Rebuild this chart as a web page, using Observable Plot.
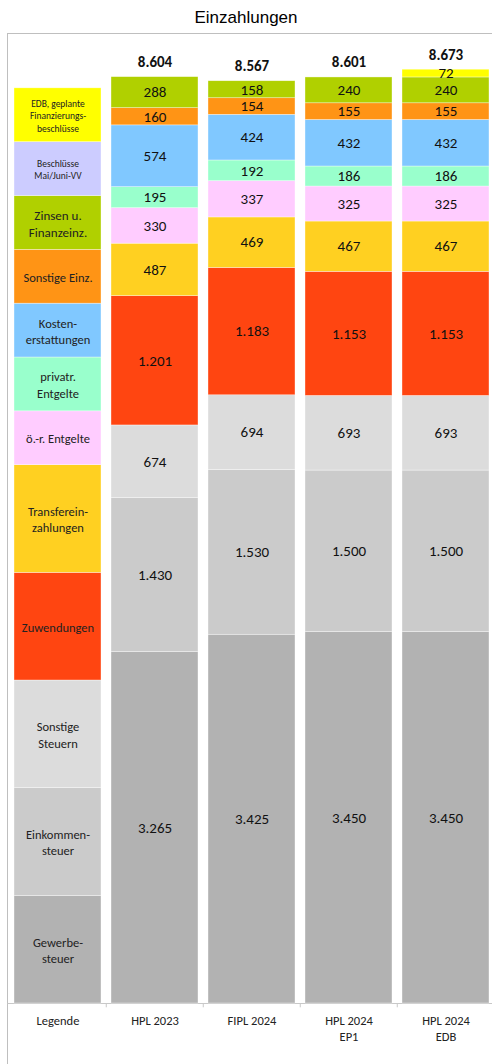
<!DOCTYPE html>
<html>
<head>
<meta charset="utf-8">
<script src="https://cdn.jsdelivr.net/npm/d3@7"></script>
<script src="https://cdn.jsdelivr.net/npm/@observablehq/plot@0.6"></script>
<style>
  html, body { margin: 0; padding: 0; background: #fff; }
  #wrap { position: relative; width: 492px; height: 1064px; overflow: hidden; }
  #title { position: absolute; left: 0; top: 6px; width: 492px; text-align: center;
           font: 17px "Liberation Sans", Arial, sans-serif; color: #000; line-height: 24px; }
  #frame { position: absolute; left: 7px; top: 33px; width: 500px; height: 1040px;
           border-left: 1px solid #bfbfbf; border-top: 1px solid #bfbfbf; }
  #chart { position: absolute; left: 0; top: 33px; }
</style>
</head>
<body>
<div id="wrap">
  <div id="frame"></div>
  <div id="title">Einzahlungen</div>
  <div id="chart"></div>
</div>
<script>
// Categories (bottom to top of each stack)
const categories = ["Gewerbesteuer", "Einkommensteuer", "Sonstige Steuern", "Zuwendungen",
  "Transfereinzahlungen", "ö.-r. Entgelte", "privatr. Entgelte", "Kostenerstattungen",
  "Sonstige Einz.", "Zinsen u. Finanzeinz.", "Beschlüsse Mai/Juni-VV",
  "EDB, geplante Finanzierungsbeschlüsse"];
const legendLabels = ["Gewerbe-\nsteuer", "Einkommen-\nsteuer", "Sonstige\nSteuern", "Zuwendungen",
  "Transferein-\nzahlungen", "ö.-r. Entgelte", "privatr.\nEntgelte", "Kosten-\nerstattungen",
  "Sonstige Einz.", "Zinsen u.\nFinanzeinz.", "Beschlüsse\nMai/Juni-VV",
  "EDB, geplante\nFinanzierungs-\nbeschlüsse"];
const legendHeights = [1000, 1000, 1000, 1000, 1000, 500, 500, 500, 500, 500, 500, 500];
const colors = ["#b2b2b2", "#cbcbcb", "#dcdcdc", "#ff4511", "#ffd021", "#ffccff", "#99ffcc",
  "#80c8ff", "#ff9415", "#b0d000", "#ccccff", "#ffff00"];

// Columns
const columns = ["Legende", "HPL 2023", "FIPL 2024", "HPL 2024\nEP1", "HPL 2024\nEDB"];
const barColumns = columns.slice(1);

// Series values (Mio. €), same order as categories
const hpl2023    = [3265, 1430, 674, 1201, 487, 330, 195, 574, 160, 288, 0, 0];
const fipl2024   = [3425, 1530, 694, 1183, 469, 337, 192, 424, 154, 158, 0, 0];
const hpl2024ep1 = [3450, 1500, 693, 1153, 467, 325, 186, 432, 155, 240, 0, 0];
const hpl2024edb = [3450, 1500, 693, 1153, 467, 325, 186, 432, 155, 240, 0, 72];
const totals     = [8604, 8567, 8601, 8673];

const series = [hpl2023, fipl2024, hpl2024ep1, hpl2024edb];

const fmt = d3.formatLocale({decimal: ",", thousands: ".", grouping: [3], currency: ["", ""]}).format(",d");

// Build stacked rows
const rows = [];
series.forEach((vals, i) => {
  let cum = 0;
  vals.forEach((v, j) => {
    if (v > 0) rows.push({col: barColumns[i], cat: categories[j], y1: cum, y2: cum + v, value: v});
    cum += v;
  });
});
const legendRows = [];
{
  let cum = 0;
  legendHeights.forEach((h, j) => {
    legendRows.push({col: columns[0], cat: categories[j], label: legendLabels[j], idx: j, y1: cum, y2: cum + h});
    cum += h;
  });
}

const W = 492, H = 1031, mL = 7.5, mR = -3;
const step = (W - mL - mR) / (columns.length - 0.1 + 0.1);

const font = "Carlito, Lato, 'Open Sans', sans-serif";
const legendSize = j => (j === 9 ? 13 : j >= 10 ? 9.5 : 12.5);

const chart = Plot.plot({
  width: W, height: H,
  marginTop: 1, marginBottom: 61, marginLeft: mL, marginRight: mR,
  x: {domain: columns, paddingInner: 0.1, paddingOuter: 0.05, axis: null},
  y: {domain: [0, 9000], axis: null},
  color: {domain: categories, range: colors},
  style: {fontFamily: font, background: "transparent", overflow: "visible"},
  marks: [
    Plot.ruleY([0], {stroke: "#c8c8c8"}),
    Plot.ruleX(barColumns, {x: d => d, y1: 0, y2: -40, dx: -step / 2, stroke: "#c8c8c8"}),
    Plot.rectY(legendRows, {x: "col", y1: "y1", y2: "y2", fill: "cat", stroke: "#fff", strokeWidth: 0.6, strokeOpacity: 0.6}),
    Plot.rectY(rows, {x: "col", y1: "y1", y2: "y2", fill: "cat", stroke: "#fff", strokeWidth: 0.6, strokeOpacity: 0.6}),
    Plot.text(rows, {x: "col", y: d => (d.y1 + d.y2) / 2, text: d => fmt(d.value), fontSize: 15, fill: "#111"}),
    ...[12.5, 13, 9.5].map(fs => Plot.text(legendRows.filter(d => legendSize(d.idx) === fs), {
      x: "col", y: d => (d.y1 + d.y2) / 2, text: "label", fontSize: fs, lineHeight: 1.3, fill: "#222"
    })),
    Plot.text(barColumns, {x: d => d, y: (d, i) => totals[i], text: (d, i) => fmt(totals[i]),
      fontSize: 15, fontWeight: "bold", fill: "#111", dy: -15}),
    Plot.text(columns, {x: d => d, frameAnchor: "bottom", text: d => d, lineAnchor: "top",
      dy: 10, fontSize: 12.5, lineHeight: 1.3, fill: "#222"})
  ]
});
document.getElementById("chart").appendChild(chart);
</script>
</body>
</html>
